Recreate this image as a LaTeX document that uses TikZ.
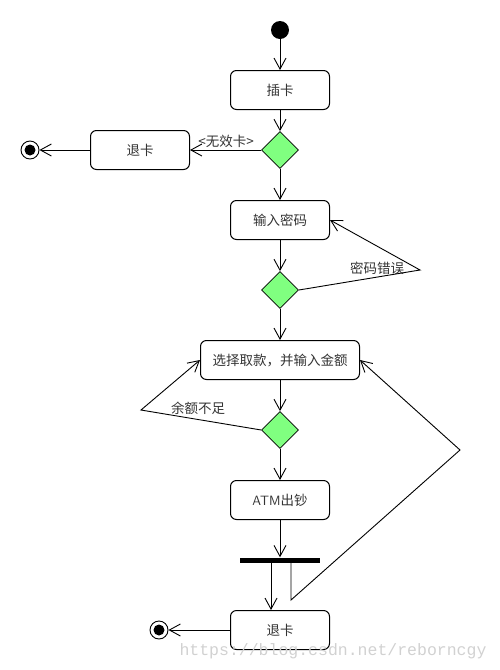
\documentclass[tikz,border=0pt]{standalone}
\usepackage{fontspec}
\newfontfamily\cjk{Noto Sans CJK SC}
\setmonofont{Liberation Mono}
\usetikzlibrary{arrows.meta,shapes.geometric}
\definecolor{dgreen}{HTML}{80FF80}
\definecolor{txt}{HTML}{333333}
\tikzset{
  act/.style={draw,line width=1pt,rounded corners=6pt,minimum width=99pt,minimum height=39pt,inner sep=0pt,font=\cjk\fontsize{13.5}{13.5}\selectfont,text=txt},
  dec/.style={draw,line width=0.8pt,diamond,fill=dgreen,minimum width=37pt,minimum height=37pt,inner sep=0pt},
  arr/.style={line width=0.9pt,-{Straight Barb[length=11pt,width=12pt,line width=0.9pt]}},
  lbl/.style={font=\cjk\fontsize{13.5}{13.5}\selectfont,text=txt,inner sep=0pt},
}
\begin{document}
\begin{tikzpicture}[x=1pt,y=-1pt]
\useasboundingbox (0,0) rectangle (500,670);
% nodes
\node[circle,fill=black,minimum size=18pt,inner sep=0pt] (start) at (280,30) {};
\node[act] (insert) at (280,90) {插卡};
\node[dec] (d1) at (280,150) {};
\node[act] (exit1) at (140,150) {退卡};
\node[circle,draw,line width=0.9pt,fill=white,minimum size=18pt,inner sep=0pt] (end1) at (30,150) {};
\fill (end1.center) circle (5.5pt);
\node[act] (pwd) at (280,220) {输入密码};
\node[dec] (d2) at (280,290) {};
\node[act,minimum width=159pt] (select) at (280,360) {选择取款，并输入金额};
\node[dec] (d3) at (280,430) {};
\node[act,font={\sffamily\fontsize{13.5}{13.5}\selectfont}] (atm) at (280,500) {ATM{\cjk 出钞}};
\node[fill=black,minimum width=80pt,minimum height=5pt,inner sep=0pt] (bar) at (280,560) {};
\node[act] (exit2) at (280,630) {退卡};
\node[circle,draw,line width=0.9pt,fill=white,minimum size=18pt,inner sep=0pt] (end2) at (159,630) {};
\fill (end2.center) circle (5.5pt);
% labels
\node[lbl] (l1) at (226,141) {<无效卡>};
\node[lbl] (l2) at (377,268) {密码错误};
\node[lbl] (l3) at (198,408) {余额不足};
% connectors
\draw[arr] (start) -- (insert);
\draw[arr] (insert) -- (d1);
\draw[arr] (d1) -- (exit1);
\draw[arr] (exit1) -- (end1);
\draw[arr] (d1) -- (pwd);
\draw[arr] (pwd) -- (d2);
\coordinate (k1) at (420,270);
\draw[arr] (d2.east) -- (k1) -- (pwd.east);
\draw[arr] (d2) -- (select);
\draw[arr] (select) -- (d3);
\coordinate (k2) at (141,410);
\draw[arr] (d3.west) -- (k2) -- (select.west);
\draw[arr] (d3) -- (atm);
\draw[arr] (atm) -- (bar);
\coordinate (b1) at (271,562);
\draw[arr] (b1) -- (b1 |- exit2.north);
\coordinate (b2) at (291,562);
\coordinate (c2) at (291,600);
\coordinate (c3) at (460,450);
\draw[arr] (b2) -- (c2) -- (c3) -- (select.east);
\draw[arr] (exit2) -- (end2);
% watermark
\node[font=\ttfamily\fontsize{16.5}{16.5}\selectfont,text=black!18,inner sep=0pt] (wm) at (333,651) {https://blog.csdn.net/reborncgy};
\end{tikzpicture}
\end{document}
